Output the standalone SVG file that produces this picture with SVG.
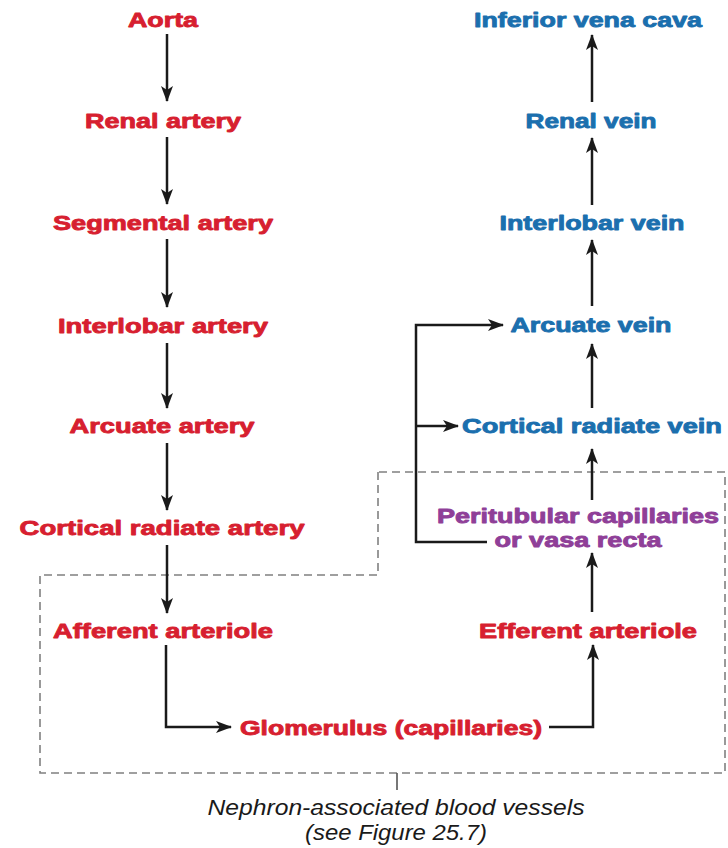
<svg xmlns="http://www.w3.org/2000/svg" width="728" height="848" viewBox="0 0 728 848">
<defs>
<marker id="ah" viewBox="0 0 16 12" refX="15" refY="6" markerWidth="16" markerHeight="12" markerUnits="userSpaceOnUse" orient="auto">
<path d="M0,0 L16,6 L0,12 L4,6 Z" fill="#1a1a1a"/>
</marker>
<style>
.t{font-family:"Liberation Sans",Arial,sans-serif;font-weight:bold;font-size:21px;text-anchor:middle;stroke-width:0.9;stroke-linejoin:round}
.r{fill:#d71f30;stroke:#d71f30}
.b{fill:#1b6fae;stroke:#1b6fae}
.p{fill:#8f3f98;stroke:#8f3f98}
.c{stroke:#1a1a1a;stroke-width:2.5;fill:none}
.a{marker-end:url(#ah)}
.d{stroke:#808080;stroke-width:1.6;fill:none;stroke-dasharray:8 5}
.cap{font-family:"Liberation Sans",Arial,sans-serif;font-style:italic;font-size:22px;fill:#1a1a1a;text-anchor:middle}
</style>
</defs>
<rect width="728" height="848" fill="#fff"/>
<g id="box">
<path class="d" d="M378,472 V575 H40 V773 H725 V472 Z"/>
<path d="M397,773 V790" stroke="#555" stroke-width="1.6" fill="none"/>
</g>
<g id="connectors">
<path class="c a" d="M167,34 V101"/>
<path class="c a" d="M167,137 V204"/>
<path class="c a" d="M167,239 V307"/>
<path class="c a" d="M167,343 V408"/>
<path class="c a" d="M167,443 V510"/>
<path class="c a" d="M167,545 V613"/>
<path class="c a" d="M166,645 V727 H231"/>
<path class="c a" d="M549,727 H593 V645"/>
<path class="c a" d="M592,612 V553"/>
<path class="c a" d="M592,500 V449"/>
<path class="c a" d="M592,408 V344"/>
<path class="c a" d="M592,306 V240"/>
<path class="c a" d="M592,205 V138"/>
<path class="c a" d="M592,102 V35"/>
<path class="c a" d="M487,542 H416 V325 H503"/>
<path class="c a" d="M416,426 H458"/>
</g>
<g id="aorta"><text class="t r" x="163" y="27" textLength="70" lengthAdjust="spacingAndGlyphs">Aorta</text></g>
<g id="renal-artery"><text class="t r" x="163" y="128" textLength="156" lengthAdjust="spacingAndGlyphs">Renal artery</text></g>
<g id="segmental-artery"><text class="t r" x="163" y="230" textLength="220" lengthAdjust="spacingAndGlyphs">Segmental artery</text></g>
<g id="interlobar-artery"><text class="t r" x="163" y="333" textLength="210" lengthAdjust="spacingAndGlyphs">Interlobar artery</text></g>
<g id="arcuate-artery"><text class="t r" x="162" y="433" textLength="185" lengthAdjust="spacingAndGlyphs">Arcuate artery</text></g>
<g id="cortical-radiate-artery"><text class="t r" x="162" y="535" textLength="285" lengthAdjust="spacingAndGlyphs">Cortical radiate artery</text></g>
<g id="afferent-arteriole"><text class="t r" x="163" y="638" textLength="220" lengthAdjust="spacingAndGlyphs">Afferent arteriole</text></g>
<g id="glomerulus"><text class="t r" x="391" y="735" textLength="302" lengthAdjust="spacingAndGlyphs">Glomerulus (capillaries)</text></g>
<g id="efferent-arteriole"><text class="t r" x="588" y="638" textLength="218" lengthAdjust="spacingAndGlyphs">Efferent arteriole</text></g>
<g id="peritubular"><text class="t p" x="578" y="523" textLength="282" lengthAdjust="spacingAndGlyphs">Peritubular capillaries</text><text class="t p" x="578" y="547" textLength="167" lengthAdjust="spacingAndGlyphs">or vasa recta</text></g>
<g id="cortical-radiate-vein"><text class="t b" x="592" y="433" textLength="260" lengthAdjust="spacingAndGlyphs">Cortical radiate vein</text></g>
<g id="arcuate-vein"><text class="t b" x="591" y="332" textLength="161" lengthAdjust="spacingAndGlyphs">Arcuate vein</text></g>
<g id="interlobar-vein"><text class="t b" x="592" y="230" textLength="185" lengthAdjust="spacingAndGlyphs">Interlobar vein</text></g>
<g id="renal-vein"><text class="t b" x="591" y="128" textLength="131" lengthAdjust="spacingAndGlyphs">Renal vein</text></g>
<g id="ivc"><text class="t b" x="588" y="27" textLength="228" lengthAdjust="spacingAndGlyphs">Inferior vena cava</text></g>
<g id="caption"><text class="cap" x="396" y="815" textLength="377" lengthAdjust="spacingAndGlyphs">Nephron-associated blood vessels</text><text class="cap" x="396" y="840" textLength="182" lengthAdjust="spacingAndGlyphs">(see Figure 25.7)</text></g>
</svg>
